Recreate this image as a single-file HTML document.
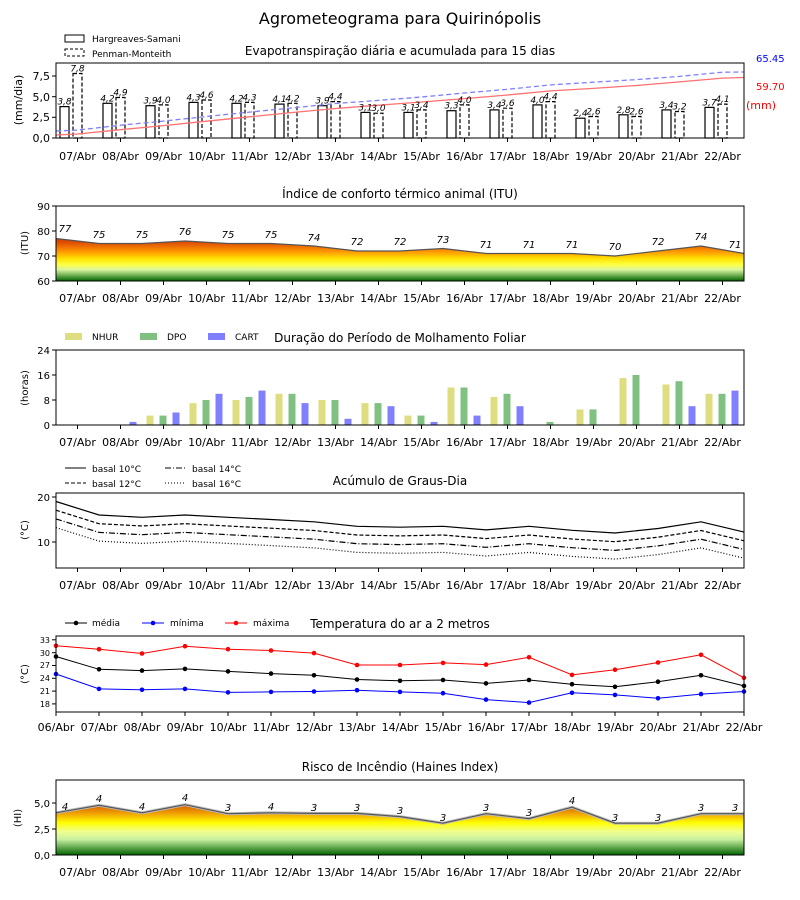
<!DOCTYPE html>
<html><head><meta charset="utf-8"><style>
html,body{margin:0;padding:0;background:#fff;}
svg{display:block;font-family:"DejaVu Sans","Liberation Sans",sans-serif;}
.t{font-size:11px;fill:#000;text-anchor:middle;}
.yl{font-size:10px;fill:#000;text-anchor:end;}
.st{font-size:12px;text-anchor:middle;}
.lb{font-size:9px;font-style:italic;text-anchor:middle;}
.lg{font-size:9px;}
</style></head><body>
<svg width="800" height="900" viewBox="0 0 800 900" xmlns="http://www.w3.org/2000/svg">
<defs>
<linearGradient id="gitu" gradientUnits="userSpaceOnUse" x1="0" y1="281" x2="0" y2="236">
<stop offset="0" stop-color="#006400"/><stop offset="0.25" stop-color="#d8f5a0"/><stop offset="0.37" stop-color="#ffff40"/><stop offset="0.5" stop-color="#ffe000"/><stop offset="0.65" stop-color="#ff9900"/><stop offset="0.85" stop-color="#e05000"/><stop offset="1" stop-color="#c03000"/>
</linearGradient>
<linearGradient id="ghi" gradientUnits="userSpaceOnUse" x1="0" y1="855" x2="0" y2="803">
<stop offset="0" stop-color="#006400"/><stop offset="0.3" stop-color="#c8f0a0"/><stop offset="0.45" stop-color="#f0ff90"/><stop offset="0.62" stop-color="#ffff00"/><stop offset="0.8" stop-color="#f0a000"/><stop offset="1" stop-color="#d05000"/>
</linearGradient>
</defs>
<text x="400" y="24" style="font-size:16px" text-anchor="middle">Agrometeograma para Quirinópolis</text>

<!-- Chart 1 -->
<rect x="65" y="35" width="19" height="7" fill="none" stroke="#000"/>
<rect x="65" y="49" width="19" height="7" fill="none" stroke="#000" stroke-dasharray="3,2"/>
<text x="92" y="42" class="lg">Hargreaves-Samani</text>
<text x="92" y="57" class="lg">Penman-Monteith</text>
<text x="400" y="55" class="st">Evapotranspiração diária e acumulada para 15 dias</text>
<text x="756" y="62" style="font-size:10px;fill:#0000ff">65.45</text>
<text x="756" y="90" style="font-size:10px;fill:#ff0000">59.70</text>
<text x="746" y="109" style="font-size:11px;fill:#ff0000">(mm)</text>
<text transform="translate(22,100) rotate(-90)" style="font-size:11px" text-anchor="middle">(mm/dia)</text>
<g class="yl" style="font-size:11px"><text x="50" y="142">0,0</text><text x="50" y="121">2,5</text><text x="50" y="101">5,0</text><text x="50" y="80">7,5</text></g>
<g stroke="#000"><line x1="52" y1="138" x2="56" y2="138"/><line x1="52" y1="117.3" x2="56" y2="117.3"/><line x1="52" y1="96.7" x2="56" y2="96.7"/><line x1="52" y1="76" x2="56" y2="76"/></g>
<g fill="none" stroke="#000" stroke-width="1.2">
<rect x="60" y="106.6" width="9" height="31.4"/><rect x="103" y="103.3" width="9" height="34.7"/><rect x="146" y="105.7" width="9" height="32.3"/><rect x="189" y="102.4" width="9" height="35.6"/><rect x="232" y="103.3" width="9" height="34.7"/><rect x="275" y="104.1" width="9" height="33.9"/><rect x="318" y="105.7" width="9" height="32.3"/><rect x="361" y="112.4" width="9" height="25.6"/><rect x="404" y="112.4" width="9" height="25.6"/><rect x="447" y="110.7" width="9" height="27.3"/><rect x="490" y="109.9" width="9" height="28.1"/><rect x="533" y="104.9" width="9" height="33.1"/><rect x="576" y="118.2" width="9" height="19.8"/><rect x="619" y="114.8" width="9" height="23.2"/><rect x="662" y="109.9" width="9" height="28.1"/><rect x="705" y="107.4" width="9" height="30.6"/>
</g>
<g fill="none" stroke="#000" stroke-width="1.2" stroke-dasharray="4,2">
<rect x="73" y="73.5" width="9" height="64.5"/><rect x="116" y="97.5" width="9" height="40.5"/><rect x="159" y="104.9" width="9" height="33.1"/><rect x="202" y="100" width="9" height="38"/><rect x="245" y="102.4" width="9" height="35.6"/><rect x="288" y="103.3" width="9" height="34.7"/><rect x="331" y="101.6" width="9" height="36.4"/><rect x="374" y="113.2" width="9" height="24.8"/><rect x="417" y="109.9" width="9" height="28.1"/><rect x="460" y="104.9" width="9" height="33.1"/><rect x="503" y="108.2" width="9" height="29.8"/><rect x="546" y="101.6" width="9" height="36.4"/><rect x="589" y="116.5" width="9" height="21.5"/><rect x="632" y="116.5" width="9" height="21.5"/><rect x="675" y="111.5" width="9" height="26.5"/><rect x="718" y="104.1" width="9" height="33.9"/>
</g>
<polyline fill="none" stroke="#8080ff" stroke-width="1.3" stroke-dasharray="5,3" points="56,131 77.5,130.1 120.5,125.2 163.5,121.1 206.5,116.5 249.5,112.1 292.5,107.9 335.5,103.5 378.5,100.4 421.5,97 464.5,93 507.5,89.3 550.5,84.9 593.5,82.2 636.5,79.6 679.5,76.4 722.5,72.2 744,72"/>
<polyline fill="none" stroke="#ff7070" stroke-width="1.3" points="56,135 77.5,134 120.5,129.7 163.5,125.6 206.5,121.2 249.5,116.8 292.5,112.5 335.5,108.5 378.5,105.2 421.5,102 464.5,98.6 507.5,95 550.5,90.9 593.5,88.4 636.5,85.5 679.5,81.9 722.5,78.1 744,77.5"/>
<g class="lb">
<text x="64.5" y="104.6">3,8</text><text x="107.5" y="101.3">4,2</text><text x="150.5" y="103.7">3,9</text><text x="193.5" y="100.4">4,3</text><text x="236.5" y="101.3">4,2</text><text x="279.5" y="102.1">4,1</text><text x="322.5" y="103.7">3,9</text><text x="365.5" y="110.4">3,1</text><text x="408.5" y="110.4">3,1</text><text x="451.5" y="108.7">3,3</text><text x="494.5" y="107.9">3,4</text><text x="537.5" y="102.9">4,0</text><text x="580.5" y="116.2">2,4</text><text x="623.5" y="112.8">2,8</text><text x="666.5" y="107.9">3,4</text><text x="709.5" y="105.4">3,7</text>
<text x="77.5" y="71.5">7,8</text><text x="120.5" y="95.5">4,9</text><text x="163.5" y="102.9">4,0</text><text x="206.5" y="98">4,6</text><text x="249.5" y="100.4">4,3</text><text x="292.5" y="101.3">4,2</text><text x="335.5" y="99.6">4,4</text><text x="378.5" y="111.2">3,0</text><text x="421.5" y="107.9">3,4</text><text x="464.5" y="102.9">4,0</text><text x="507.5" y="106.2">3,6</text><text x="550.5" y="99.6">4,4</text><text x="593.5" y="114.5">2,6</text><text x="636.5" y="114.5">2,6</text><text x="679.5" y="109.5">3,2</text><text x="722.5" y="102.1">4,1</text>
</g>
<rect x="56" y="63" width="688" height="75" fill="none" stroke="#000"/>
<g stroke="#000"><line x1="77.5" y1="138" x2="77.5" y2="142"/><line x1="120.5" y1="138" x2="120.5" y2="142"/><line x1="163.5" y1="138" x2="163.5" y2="142"/><line x1="206.5" y1="138" x2="206.5" y2="142"/><line x1="249.5" y1="138" x2="249.5" y2="142"/><line x1="292.5" y1="138" x2="292.5" y2="142"/><line x1="335.5" y1="138" x2="335.5" y2="142"/><line x1="378.5" y1="138" x2="378.5" y2="142"/><line x1="421.5" y1="138" x2="421.5" y2="142"/><line x1="464.5" y1="138" x2="464.5" y2="142"/><line x1="507.5" y1="138" x2="507.5" y2="142"/><line x1="550.5" y1="138" x2="550.5" y2="142"/><line x1="593.5" y1="138" x2="593.5" y2="142"/><line x1="636.5" y1="138" x2="636.5" y2="142"/><line x1="679.5" y1="138" x2="679.5" y2="142"/><line x1="722.5" y1="138" x2="722.5" y2="142"/></g>
<g class="t"><text x="77.5" y="160">07/Abr</text><text x="120.5" y="160">08/Abr</text><text x="163.5" y="160">09/Abr</text><text x="206.5" y="160">10/Abr</text><text x="249.5" y="160">11/Abr</text><text x="292.5" y="160">12/Abr</text><text x="335.5" y="160">13/Abr</text><text x="378.5" y="160">14/Abr</text><text x="421.5" y="160">15/Abr</text><text x="464.5" y="160">16/Abr</text><text x="507.5" y="160">17/Abr</text><text x="550.5" y="160">18/Abr</text><text x="593.5" y="160">19/Abr</text><text x="636.5" y="160">20/Abr</text><text x="679.5" y="160">21/Abr</text><text x="722.5" y="160">22/Abr</text></g>

<!-- Chart 2 ITU -->
<text x="400" y="198" class="st">Índice de conforto térmico animal (ITU)</text>
<text transform="translate(28,243) rotate(-90)" style="font-size:10px" text-anchor="middle">(ITU)</text>
<g class="yl"><text x="50" y="285">60</text><text x="50" y="260">70</text><text x="50" y="235">80</text><text x="50" y="210">90</text></g>
<g stroke="#000"><line x1="52" y1="281" x2="56" y2="281"/><line x1="52" y1="256" x2="56" y2="256"/><line x1="52" y1="231" x2="56" y2="231"/><line x1="52" y1="206" x2="56" y2="206"/></g>
<polygon fill="url(#gitu)" points="56,281 56,238.5 99,243.5 142,243.5 185,241 228,243.5 271,243.5 314,246 357,251 400,251 443,248.5 486,253.5 529,253.5 572,253.5 615,256 658,251 701,246 744,253.5 744,281"/>
<polyline fill="none" stroke="#555" stroke-width="1.2" points="56,238.5 99,243.5 142,243.5 185,241 228,243.5 271,243.5 314,246 357,251 400,251 443,248.5 486,253.5 529,253.5 572,253.5 615,256 658,251 701,246 744,253.5"/>
<g class="lb" style="font-size:10px">
<text x="65" y="232">77</text><text x="99" y="238">75</text><text x="142" y="238">75</text><text x="185" y="235">76</text><text x="228" y="238">75</text><text x="271" y="238">75</text><text x="314" y="241">74</text><text x="357" y="245">72</text><text x="400" y="245">72</text><text x="443" y="243">73</text><text x="486" y="248">71</text><text x="529" y="248">71</text><text x="572" y="248">71</text><text x="615" y="250">70</text><text x="658" y="245">72</text><text x="701" y="240">74</text><text x="735" y="248">71</text>
</g>
<rect x="56" y="206" width="688" height="75" fill="none" stroke="#000"/>
<g stroke="#000"><line x1="77.5" y1="281" x2="77.5" y2="285"/><line x1="120.5" y1="281" x2="120.5" y2="285"/><line x1="163.5" y1="281" x2="163.5" y2="285"/><line x1="206.5" y1="281" x2="206.5" y2="285"/><line x1="249.5" y1="281" x2="249.5" y2="285"/><line x1="292.5" y1="281" x2="292.5" y2="285"/><line x1="335.5" y1="281" x2="335.5" y2="285"/><line x1="378.5" y1="281" x2="378.5" y2="285"/><line x1="421.5" y1="281" x2="421.5" y2="285"/><line x1="464.5" y1="281" x2="464.5" y2="285"/><line x1="507.5" y1="281" x2="507.5" y2="285"/><line x1="550.5" y1="281" x2="550.5" y2="285"/><line x1="593.5" y1="281" x2="593.5" y2="285"/><line x1="636.5" y1="281" x2="636.5" y2="285"/><line x1="679.5" y1="281" x2="679.5" y2="285"/><line x1="722.5" y1="281" x2="722.5" y2="285"/></g>
<g class="t"><text x="77.5" y="302">07/Abr</text><text x="120.5" y="302">08/Abr</text><text x="163.5" y="302">09/Abr</text><text x="206.5" y="302">10/Abr</text><text x="249.5" y="302">11/Abr</text><text x="292.5" y="302">12/Abr</text><text x="335.5" y="302">13/Abr</text><text x="378.5" y="302">14/Abr</text><text x="421.5" y="302">15/Abr</text><text x="464.5" y="302">16/Abr</text><text x="507.5" y="302">17/Abr</text><text x="550.5" y="302">18/Abr</text><text x="593.5" y="302">19/Abr</text><text x="636.5" y="302">20/Abr</text><text x="679.5" y="302">21/Abr</text><text x="722.5" y="302">22/Abr</text></g>

<!-- Chart 3 Molhamento -->
<rect x="65" y="333" width="17" height="7" fill="#dede80"/><text x="92" y="340" class="lg">NHUR</text>
<rect x="140" y="333" width="17" height="7" fill="#80c080"/><text x="167" y="340" class="lg">DPO</text>
<rect x="208" y="333" width="17" height="7" fill="#8080ff"/><text x="235" y="340" class="lg">CART</text>
<text x="400" y="342" class="st">Duração do Período de Molhamento Foliar</text>
<text transform="translate(28,388) rotate(-90)" style="font-size:10px" text-anchor="middle">(horas)</text>
<g class="yl"><text x="50" y="429">0</text><text x="50" y="404">8</text><text x="50" y="379">16</text><text x="50" y="354">24</text></g>
<g stroke="#000"><line x1="52" y1="425" x2="56" y2="425"/><line x1="52" y1="400" x2="56" y2="400"/><line x1="52" y1="375" x2="56" y2="375"/><line x1="52" y1="350" x2="56" y2="350"/></g>
<g fill="#dede80">
<rect x="146.5" y="415.6" width="7" height="9.4"/><rect x="189.5" y="403.1" width="7" height="21.9"/><rect x="232.5" y="400" width="7" height="25"/><rect x="275.5" y="393.8" width="7" height="31.2"/><rect x="318.5" y="400" width="7" height="25"/><rect x="361.5" y="403.1" width="7" height="21.9"/><rect x="404.5" y="415.6" width="7" height="9.4"/><rect x="447.5" y="387.5" width="7" height="37.5"/><rect x="490.5" y="396.9" width="7" height="28.1"/><rect x="576.5" y="409.4" width="7" height="15.6"/><rect x="619.5" y="378.1" width="7" height="46.9"/><rect x="662.5" y="384.4" width="7" height="40.6"/><rect x="705.5" y="393.8" width="7" height="31.2"/>
</g>
<g fill="#80c080">
<rect x="159.5" y="415.6" width="7" height="9.4"/><rect x="202.5" y="400" width="7" height="25"/><rect x="245.5" y="396.9" width="7" height="28.1"/><rect x="288.5" y="393.8" width="7" height="31.2"/><rect x="331.5" y="400" width="7" height="25"/><rect x="374.5" y="403.1" width="7" height="21.9"/><rect x="417.5" y="415.6" width="7" height="9.4"/><rect x="460.5" y="387.5" width="7" height="37.5"/><rect x="503.5" y="393.8" width="7" height="31.2"/><rect x="546.5" y="421.9" width="7" height="3.1"/><rect x="589.5" y="409.4" width="7" height="15.6"/><rect x="632.5" y="375" width="7" height="50"/><rect x="675.5" y="381.2" width="7" height="43.8"/><rect x="718.5" y="393.8" width="7" height="31.2"/>
</g>
<g fill="#8080ff">
<rect x="129.5" y="421.9" width="7" height="3.1"/><rect x="172.5" y="412.5" width="7" height="12.5"/><rect x="215.5" y="393.8" width="7" height="31.2"/><rect x="258.5" y="390.6" width="7" height="34.4"/><rect x="301.5" y="403.1" width="7" height="21.9"/><rect x="344.5" y="418.8" width="7" height="6.2"/><rect x="387.5" y="406.2" width="7" height="18.8"/><rect x="430.5" y="421.9" width="7" height="3.1"/><rect x="473.5" y="415.6" width="7" height="9.4"/><rect x="516.5" y="406.2" width="7" height="18.8"/><rect x="688.5" y="406.2" width="7" height="18.8"/><rect x="731.5" y="390.6" width="7" height="34.4"/>
</g>
<rect x="56" y="350" width="688" height="75" fill="none" stroke="#000"/>
<g stroke="#000"><line x1="77.5" y1="425" x2="77.5" y2="429"/><line x1="120.5" y1="425" x2="120.5" y2="429"/><line x1="163.5" y1="425" x2="163.5" y2="429"/><line x1="206.5" y1="425" x2="206.5" y2="429"/><line x1="249.5" y1="425" x2="249.5" y2="429"/><line x1="292.5" y1="425" x2="292.5" y2="429"/><line x1="335.5" y1="425" x2="335.5" y2="429"/><line x1="378.5" y1="425" x2="378.5" y2="429"/><line x1="421.5" y1="425" x2="421.5" y2="429"/><line x1="464.5" y1="425" x2="464.5" y2="429"/><line x1="507.5" y1="425" x2="507.5" y2="429"/><line x1="550.5" y1="425" x2="550.5" y2="429"/><line x1="593.5" y1="425" x2="593.5" y2="429"/><line x1="636.5" y1="425" x2="636.5" y2="429"/><line x1="679.5" y1="425" x2="679.5" y2="429"/><line x1="722.5" y1="425" x2="722.5" y2="429"/></g>
<g class="t"><text x="77.5" y="446">07/Abr</text><text x="120.5" y="446">08/Abr</text><text x="163.5" y="446">09/Abr</text><text x="206.5" y="446">10/Abr</text><text x="249.5" y="446">11/Abr</text><text x="292.5" y="446">12/Abr</text><text x="335.5" y="446">13/Abr</text><text x="378.5" y="446">14/Abr</text><text x="421.5" y="446">15/Abr</text><text x="464.5" y="446">16/Abr</text><text x="507.5" y="446">17/Abr</text><text x="550.5" y="446">18/Abr</text><text x="593.5" y="446">19/Abr</text><text x="636.5" y="446">20/Abr</text><text x="679.5" y="446">21/Abr</text><text x="722.5" y="446">22/Abr</text></g>

<!-- Chart 4 Graus-dia -->
<line x1="65" y1="468" x2="86" y2="468" stroke="#000"/><text x="92" y="472" class="lg">basal 10°C</text>
<line x1="65" y1="483" x2="86" y2="483" stroke="#000" stroke-dasharray="4,2"/><text x="92" y="487" class="lg">basal 12°C</text>
<line x1="165" y1="468" x2="186" y2="468" stroke="#000" stroke-dasharray="6,2,1,2"/><text x="192" y="472" class="lg">basal 14°C</text>
<line x1="165" y1="483" x2="186" y2="483" stroke="#000" stroke-dasharray="1,2"/><text x="192" y="487" class="lg">basal 16°C</text>
<text x="400" y="485" class="st">Acúmulo de Graus-Dia</text>
<text transform="translate(28,530) rotate(-90)" style="font-size:10px" text-anchor="middle">(°C)</text>
<g class="yl"><text x="50" y="546">10</text><text x="50" y="501">20</text></g>
<g stroke="#000"><line x1="52" y1="542" x2="56" y2="542"/><line x1="52" y1="497" x2="56" y2="497"/></g>
<g fill="none" stroke="#000" stroke-width="1.2">
<polyline points="56,501.5 99,515 142,517.3 185,515 228,517.3 271,519.5 314,521.8 357,526.3 400,527.2 443,526.3 486,529.9 529,526.3 572,530.3 615,533 658,528.5 701,521.8 744,532.1"/>
<polyline stroke-dasharray="4,2" transform="translate(0,8.7)" points="56,501.5 99,515 142,517.3 185,515 228,517.3 271,519.5 314,521.8 357,526.3 400,527.2 443,526.3 486,529.9 529,526.3 572,530.3 615,533 658,528.5 701,521.8 744,532.1"/>
<polyline stroke-dasharray="6,2,1,2" transform="translate(0,17.4)" points="56,501.5 99,515 142,517.3 185,515 228,517.3 271,519.5 314,521.8 357,526.3 400,527.2 443,526.3 486,529.9 529,526.3 572,530.3 615,533 658,528.5 701,521.8 744,532.1"/>
<polyline stroke-dasharray="1,2" transform="translate(0,26.1)" points="56,501.5 99,515 142,517.3 185,515 228,517.3 271,519.5 314,521.8 357,526.3 400,527.2 443,526.3 486,529.9 529,526.3 572,530.3 615,533 658,528.5 701,521.8 744,532.1"/>
</g>
<rect x="56" y="493" width="688" height="75" fill="none" stroke="#000"/>
<g stroke="#000"><line x1="77.5" y1="568" x2="77.5" y2="572"/><line x1="120.5" y1="568" x2="120.5" y2="572"/><line x1="163.5" y1="568" x2="163.5" y2="572"/><line x1="206.5" y1="568" x2="206.5" y2="572"/><line x1="249.5" y1="568" x2="249.5" y2="572"/><line x1="292.5" y1="568" x2="292.5" y2="572"/><line x1="335.5" y1="568" x2="335.5" y2="572"/><line x1="378.5" y1="568" x2="378.5" y2="572"/><line x1="421.5" y1="568" x2="421.5" y2="572"/><line x1="464.5" y1="568" x2="464.5" y2="572"/><line x1="507.5" y1="568" x2="507.5" y2="572"/><line x1="550.5" y1="568" x2="550.5" y2="572"/><line x1="593.5" y1="568" x2="593.5" y2="572"/><line x1="636.5" y1="568" x2="636.5" y2="572"/><line x1="679.5" y1="568" x2="679.5" y2="572"/><line x1="722.5" y1="568" x2="722.5" y2="572"/></g>
<g class="t"><text x="77.5" y="589">07/Abr</text><text x="120.5" y="589">08/Abr</text><text x="163.5" y="589">09/Abr</text><text x="206.5" y="589">10/Abr</text><text x="249.5" y="589">11/Abr</text><text x="292.5" y="589">12/Abr</text><text x="335.5" y="589">13/Abr</text><text x="378.5" y="589">14/Abr</text><text x="421.5" y="589">15/Abr</text><text x="464.5" y="589">16/Abr</text><text x="507.5" y="589">17/Abr</text><text x="550.5" y="589">18/Abr</text><text x="593.5" y="589">19/Abr</text><text x="636.5" y="589">20/Abr</text><text x="679.5" y="589">21/Abr</text><text x="722.5" y="589">22/Abr</text></g>

<!-- Chart 5 Temperatura -->
<line x1="65" y1="623" x2="87" y2="623" stroke="#000"/><circle cx="76" cy="623" r="2.3" fill="#000"/><text x="92" y="626" class="lg">média</text>
<line x1="142" y1="623" x2="164" y2="623" stroke="#00f"/><circle cx="153" cy="623" r="2.3" fill="#00f"/><text x="170" y="626" class="lg">mínima</text>
<line x1="225" y1="623" x2="247" y2="623" stroke="#f00"/><circle cx="236" cy="623" r="2.3" fill="#f00"/><text x="253" y="626" class="lg">máxima</text>
<text x="400" y="628" class="st">Temperatura do ar a 2 metros</text>
<text transform="translate(28,674) rotate(-90)" style="font-size:10px" text-anchor="middle">(°C)</text>
<g class="yl" style="font-size:8px"><text x="50" y="707">18</text><text x="50" y="694">21</text><text x="50" y="681">24</text><text x="50" y="668">27</text><text x="50" y="656">30</text><text x="50" y="643">33</text></g>
<g stroke="#000"><line x1="52" y1="703.9" x2="56" y2="703.9"/><line x1="52" y1="691.1" x2="56" y2="691.1"/><line x1="52" y1="678.3" x2="56" y2="678.3"/><line x1="52" y1="665.5" x2="56" y2="665.5"/><line x1="52" y1="652.7" x2="56" y2="652.7"/><line x1="52" y1="639.8" x2="56" y2="639.8"/></g>
<polyline fill="none" stroke="#f00" points="56,645.8 99,649.2 142,653.5 185,646.2 228,649.2 271,650.5 314,653.1 357,665 400,665 443,662.9 486,664.6 529,657.3 572,674.9 615,669.7 658,662.5 701,654.8 744,677.8"/>
<g fill="#f00"><circle cx="56" cy="645.8" r="2.3"/><circle cx="99" cy="649.2" r="2.3"/><circle cx="142" cy="653.5" r="2.3"/><circle cx="185" cy="646.2" r="2.3"/><circle cx="228" cy="649.2" r="2.3"/><circle cx="271" cy="650.5" r="2.3"/><circle cx="314" cy="653.1" r="2.3"/><circle cx="357" cy="665" r="2.3"/><circle cx="400" cy="665" r="2.3"/><circle cx="443" cy="662.9" r="2.3"/><circle cx="486" cy="664.6" r="2.3"/><circle cx="529" cy="657.3" r="2.3"/><circle cx="572" cy="674.9" r="2.3"/><circle cx="615" cy="669.7" r="2.3"/><circle cx="658" cy="662.5" r="2.3"/><circle cx="701" cy="654.8" r="2.3"/><circle cx="744" cy="677.8" r="2.3"/></g>
<polyline fill="none" stroke="#000" points="56,656.5 99,669.3 142,670.6 185,668.9 228,671.4 271,673.6 314,675.3 357,679.5 400,680.8 443,680 486,683.4 529,680 572,684.2 615,686.8 658,681.7 701,675.3 744,685.9"/>
<g fill="#000"><circle cx="56" cy="656.5" r="2.3"/><circle cx="99" cy="669.3" r="2.3"/><circle cx="142" cy="670.6" r="2.3"/><circle cx="185" cy="668.9" r="2.3"/><circle cx="228" cy="671.4" r="2.3"/><circle cx="271" cy="673.6" r="2.3"/><circle cx="314" cy="675.3" r="2.3"/><circle cx="357" cy="679.5" r="2.3"/><circle cx="400" cy="680.8" r="2.3"/><circle cx="443" cy="680" r="2.3"/><circle cx="486" cy="683.4" r="2.3"/><circle cx="529" cy="680" r="2.3"/><circle cx="572" cy="684.2" r="2.3"/><circle cx="615" cy="686.8" r="2.3"/><circle cx="658" cy="681.7" r="2.3"/><circle cx="701" cy="675.3" r="2.3"/><circle cx="744" cy="685.9" r="2.3"/></g>
<polyline fill="none" stroke="#00f" points="56,674 99,688.9 142,689.8 185,688.9 228,692.4 271,691.9 314,691.5 357,690.2 400,691.9 443,693.2 486,699.6 529,702.6 572,692.8 615,694.9 658,698.3 701,694.1 744,691.5"/>
<g fill="#00f"><circle cx="56" cy="674" r="2.3"/><circle cx="99" cy="688.9" r="2.3"/><circle cx="142" cy="689.8" r="2.3"/><circle cx="185" cy="688.9" r="2.3"/><circle cx="228" cy="692.4" r="2.3"/><circle cx="271" cy="691.9" r="2.3"/><circle cx="314" cy="691.5" r="2.3"/><circle cx="357" cy="690.2" r="2.3"/><circle cx="400" cy="691.9" r="2.3"/><circle cx="443" cy="693.2" r="2.3"/><circle cx="486" cy="699.6" r="2.3"/><circle cx="529" cy="702.6" r="2.3"/><circle cx="572" cy="692.8" r="2.3"/><circle cx="615" cy="694.9" r="2.3"/><circle cx="658" cy="698.3" r="2.3"/><circle cx="701" cy="694.1" r="2.3"/><circle cx="744" cy="691.5" r="2.3"/></g>
<rect x="56" y="636" width="688" height="76" fill="none" stroke="#000"/>
<g stroke="#000"><line x1="56" y1="712" x2="56" y2="716"/><line x1="99" y1="712" x2="99" y2="716"/><line x1="142" y1="712" x2="142" y2="716"/><line x1="185" y1="712" x2="185" y2="716"/><line x1="228" y1="712" x2="228" y2="716"/><line x1="271" y1="712" x2="271" y2="716"/><line x1="314" y1="712" x2="314" y2="716"/><line x1="357" y1="712" x2="357" y2="716"/><line x1="400" y1="712" x2="400" y2="716"/><line x1="443" y1="712" x2="443" y2="716"/><line x1="486" y1="712" x2="486" y2="716"/><line x1="529" y1="712" x2="529" y2="716"/><line x1="572" y1="712" x2="572" y2="716"/><line x1="615" y1="712" x2="615" y2="716"/><line x1="658" y1="712" x2="658" y2="716"/><line x1="701" y1="712" x2="701" y2="716"/><line x1="744" y1="712" x2="744" y2="716"/></g>
<g class="t"><text x="56" y="731">06/Abr</text><text x="99" y="731">07/Abr</text><text x="142" y="731">08/Abr</text><text x="185" y="731">09/Abr</text><text x="228" y="731">10/Abr</text><text x="271" y="731">11/Abr</text><text x="314" y="731">12/Abr</text><text x="357" y="731">13/Abr</text><text x="400" y="731">14/Abr</text><text x="443" y="731">15/Abr</text><text x="486" y="731">16/Abr</text><text x="529" y="731">17/Abr</text><text x="572" y="731">18/Abr</text><text x="615" y="731">19/Abr</text><text x="658" y="731">20/Abr</text><text x="701" y="731">21/Abr</text><text x="744" y="731">22/Abr</text></g>

<!-- Chart 6 Haines -->
<text x="400" y="771" class="st">Risco de Incêndio (Haines Index)</text>
<text transform="translate(21,818) rotate(-90)" style="font-size:10px" text-anchor="middle">(HI)</text>
<g class="yl"><text x="50" y="859">0,0</text><text x="50" y="833">2,5</text><text x="50" y="807">5,0</text></g>
<g stroke="#000"><line x1="52" y1="855" x2="56" y2="855"/><line x1="52" y1="829" x2="56" y2="829"/><line x1="52" y1="803" x2="56" y2="803"/></g>
<polygon fill="url(#ghi)" points="56,855 56,812.8 99,805.3 142,812.8 185,804.7 228,813.7 271,812.8 314,813.4 357,813.4 400,816.6 443,823.2 486,813.7 529,818.6 572,807.2 615,823.2 658,823.2 701,813.7 744,813.7 744,855"/>
<polyline fill="none" stroke="#bbb" stroke-width="3" points="56,812.8 99,805.3 142,812.8 185,804.7 228,813.7 271,812.8 314,813.4 357,813.4 400,816.6 443,823.2 486,813.7 529,818.6 572,807.2 615,823.2 658,823.2 701,813.7 744,813.7"/>
<polyline fill="none" stroke="#555" stroke-width="1.2" points="56,812.8 99,805.3 142,812.8 185,804.7 228,813.7 271,812.8 314,813.4 357,813.4 400,816.6 443,823.2 486,813.7 529,818.6 572,807.2 615,823.2 658,823.2 701,813.7 744,813.7"/>
<g class="lb" style="font-size:10px">
<text x="65" y="810">4</text><text x="99" y="802">4</text><text x="142" y="810">4</text><text x="185" y="801">4</text><text x="228" y="811">3</text><text x="271" y="810">4</text><text x="314" y="811">3</text><text x="357" y="811">3</text><text x="400" y="814">3</text><text x="443" y="821">3</text><text x="486" y="811">3</text><text x="529" y="816">3</text><text x="572" y="804">4</text><text x="615" y="821">3</text><text x="658" y="821">3</text><text x="701" y="811">3</text><text x="735" y="811">3</text>
</g>
<rect x="56" y="780" width="688" height="75" fill="none" stroke="#000"/>
<g stroke="#000"><line x1="77.5" y1="855" x2="77.5" y2="859"/><line x1="120.5" y1="855" x2="120.5" y2="859"/><line x1="163.5" y1="855" x2="163.5" y2="859"/><line x1="206.5" y1="855" x2="206.5" y2="859"/><line x1="249.5" y1="855" x2="249.5" y2="859"/><line x1="292.5" y1="855" x2="292.5" y2="859"/><line x1="335.5" y1="855" x2="335.5" y2="859"/><line x1="378.5" y1="855" x2="378.5" y2="859"/><line x1="421.5" y1="855" x2="421.5" y2="859"/><line x1="464.5" y1="855" x2="464.5" y2="859"/><line x1="507.5" y1="855" x2="507.5" y2="859"/><line x1="550.5" y1="855" x2="550.5" y2="859"/><line x1="593.5" y1="855" x2="593.5" y2="859"/><line x1="636.5" y1="855" x2="636.5" y2="859"/><line x1="679.5" y1="855" x2="679.5" y2="859"/><line x1="722.5" y1="855" x2="722.5" y2="859"/></g>
<g class="t"><text x="77.5" y="876">07/Abr</text><text x="120.5" y="876">08/Abr</text><text x="163.5" y="876">09/Abr</text><text x="206.5" y="876">10/Abr</text><text x="249.5" y="876">11/Abr</text><text x="292.5" y="876">12/Abr</text><text x="335.5" y="876">13/Abr</text><text x="378.5" y="876">14/Abr</text><text x="421.5" y="876">15/Abr</text><text x="464.5" y="876">16/Abr</text><text x="507.5" y="876">17/Abr</text><text x="550.5" y="876">18/Abr</text><text x="593.5" y="876">19/Abr</text><text x="636.5" y="876">20/Abr</text><text x="679.5" y="876">21/Abr</text><text x="722.5" y="876">22/Abr</text></g>
</svg>
</body></html>
